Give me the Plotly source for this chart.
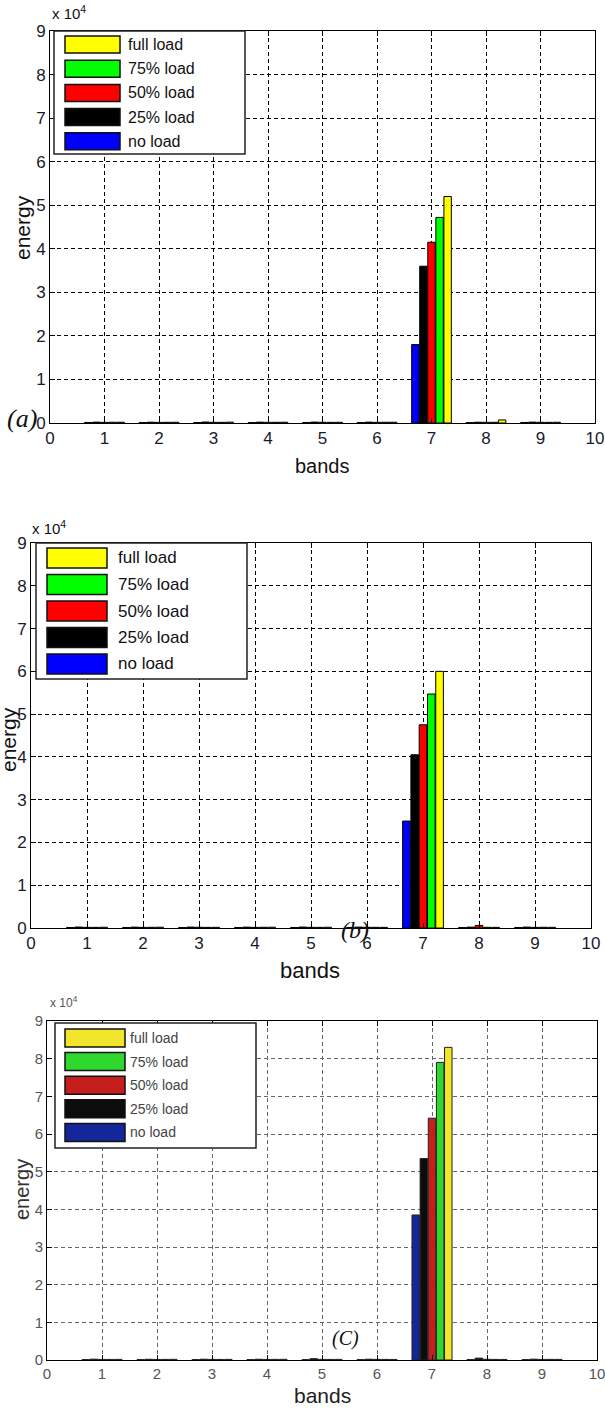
import plotly.graph_objects as go

W, H = 605, 1409

# ---------------- data ----------------
bands = [1, 2, 3, 4, 5, 6, 7, 8, 9]
series_names = ["no load", "25% load", "50% load", "75% load", "full load"]

# panel (a)
a_no_load   = [120, 100, 110, 100, 120, 110, 18000, 100, 120]
a_25_load   = [200, 180, 220, 190, 210, 200, 36000, 180, 200]
a_50_load   = [150, 140, 160, 150, 170, 150, 41500, 150, 160]
a_75_load   = [170, 160, 150, 160, 150, 170, 47200, 160, 150]
a_full_load = [180, 170, 190, 180, 160, 180, 52000, 700, 170]

# panel (b)
b_no_load   = [120, 110, 100, 120, 110, 120, 25000, 100, 110]
b_25_load   = [220, 200, 210, 200, 220, 210, 40500, 200, 210]
b_50_load   = [160, 150, 170, 150, 160, 170, 47500, 600, 150]
b_75_load   = [150, 160, 150, 170, 150, 160, 54700, 160, 170]
b_full_load = [170, 180, 160, 180, 170, 150, 60000, 150, 160]

# panel (c)
c_no_load   = [120, 100, 110, 120, 100, 110, 38500, 120, 100]
c_25_load   = [220, 200, 210, 200, 350, 210, 53500, 500, 220]
c_50_load   = [160, 150, 170, 150, 160, 170, 64200, 200, 150]
c_75_load   = [150, 160, 150, 170, 150, 160, 79000, 160, 170]
c_full_load = [170, 180, 160, 180, 170, 150, 83000, 150, 160]

x_ticks = [0, 1, 2, 3, 4, 5, 6, 7, 8, 9, 10]
y_tick_vals = [0, 10000, 20000, 30000, 40000, 50000, 60000, 70000, 80000, 90000]
y_tick_text = ["0", "1", "2", "3", "4", "5", "6", "7", "8", "9"]

# ---------------- style ----------------
colors_ab = ["#0000ff", "#000000", "#ff0000", "#00ff00", "#ffff00"]
colors_c = ["#13279a", "#0c0c0c", "#c61d1d", "#2fd82f", "#f2e62a"]

NARROW = "Liberation Sans Narrow, Arial Narrow, Liberation Sans, Arial"

def px_x(p):
    return p / W

def px_y(p):
    return 1 - p / H

panels = [
    dict(xa="x", ya="y", data=[a_no_load, a_25_load, a_50_load, a_75_load, a_full_load],
         colors=colors_ab, edge="#000000", box=(50, 595, 31, 423),
         grid="#000000", tickfont=dict(family=NARROW, size=17, color="#1a1a2a"),
         leg=dict(box=(54, 245, 31, 154), rx=(65, 120), y0=36, dy=24.2, rh=17, tx=126, fs=16, tc="#111"),
         mult=(50, 12, 15, "#111"),
         energy=(22, 228, 21, "#111"), bandsl=(322, 466, 20, "#111"),
         label=("(a)", 22, 418, 26)),
    dict(xa="x2", ya="y2", data=[b_no_load, b_25_load, b_50_load, b_75_load, b_full_load],
         colors=colors_ab, edge="#000000", box=(31, 591, 543, 928),
         grid="#000000", tickfont=dict(family=NARROW, size=17, color="#1a1a2a"),
         leg=dict(box=(36, 247, 543, 679), rx=(47, 107), y0=548, dy=26.5, rh=20, tx=116, fs=17, tc="#111"),
         mult=(30, 527, 15, "#111"),
         energy=(8, 740, 21, "#111"), bandsl=(310, 970, 22, "#111"),
         label=("(b)", 355, 930, 24)),
    dict(xa="x3", ya="y3", data=[c_no_load, c_25_load, c_50_load, c_75_load, c_full_load],
         colors=colors_c, edge="#222222", box=(47, 597, 1021, 1360),
         grid="#666666", tickfont=dict(family=NARROW, size=15, color="#555"),
         leg=dict(box=(55, 256, 1023, 1148), rx=(65, 125), y0=1029, dy=23.6, rh=18, tx=128, fs=14, tc="#444"),
         mult=(48, 1002, 12, "#555"),
         energy=(22, 1190, 20, "#333"), bandsl=(322, 1395, 21, "#222"),
         label=("(C)", 345, 1338, 20)),
]

fig = go.Figure()
shapes = []
annotations = []
layout_axes = {}

for i, p in enumerate(panels):
    for k, name in enumerate(series_names):
        fig.add_trace(go.Bar(
            x=bands, y=p["data"][k], name=name,
            xaxis=p["xa"], yaxis=p["ya"],
            marker=dict(color=p["colors"][k], line=dict(color=p["edge"], width=1)),
            showlegend=False,
        ))
    x0, x1, y0, y1 = p["box"]
    xkey = "xaxis" if p["xa"] == "x" else "xaxis" + p["xa"][1:]
    ykey = "yaxis" if p["ya"] == "y" else "yaxis" + p["ya"][1:]
    layout_axes[xkey] = dict(
        domain=[px_x(x0), px_x(x1)], anchor=p["ya"], range=[0, 10],
        tickvals=x_ticks, ticktext=[str(t) for t in x_ticks],
        showgrid=True, gridcolor=p["grid"], griddash="4px,3px", gridwidth=1,
        showline=True, linecolor="#000", linewidth=1, mirror="ticks",
        ticks="inside", ticklen=5, tickcolor="#000", automargin=False,
        ticklabeloverflow="allow",
        tickfont=p["tickfont"], zeroline=False, fixedrange=True,
    )
    layout_axes[ykey] = dict(
        domain=[px_y(y1), px_y(y0)], anchor=p["xa"], range=[0, 90000],
        tickvals=y_tick_vals, ticktext=y_tick_text,
        showgrid=True, gridcolor=p["grid"], griddash="4px,3px", gridwidth=1,
        showline=True, linecolor="#000", linewidth=1, mirror="ticks",
        ticks="inside", ticklen=5, tickcolor="#000", automargin=False,
        ticklabeloverflow="allow",
        tickfont=p["tickfont"], zeroline=False, fixedrange=True,
    )

    # manual legend
    L = p["leg"]
    bx0, bx1, by0, by1 = L["box"]
    shapes.append(dict(type="rect", xref="paper", yref="paper",
                       x0=px_x(bx0), x1=px_x(bx1), y0=px_y(by1), y1=px_y(by0),
                       fillcolor="white", line=dict(color="#222", width=1.5), layer="above"))
    order = list(range(len(series_names)))[::-1]
    for r, k in enumerate(order):
        top = L["y0"] + r * L["dy"]
        shapes.append(dict(type="rect", xref="paper", yref="paper",
                           x0=px_x(L["rx"][0]), x1=px_x(L["rx"][1]),
                           y0=px_y(top + L["rh"]), y1=px_y(top),
                           fillcolor=p["colors"][k], line=dict(color="#111", width=1.5), layer="above"))
        annotations.append(dict(xref="paper", yref="paper", x=px_x(L["tx"]), y=px_y(top + L["rh"] / 2),
                                text=series_names[k], showarrow=False, xanchor="left", yanchor="middle",
                                font=dict(family=NARROW, size=L["fs"], color=L["tc"])))

    mx, my, ms, mc = p["mult"]
    annotations.append(dict(xref="paper", yref="paper", x=px_x(mx), y=px_y(my), text="x 10<sup>4</sup>",
                            showarrow=False, xanchor="left", yanchor="middle",
                            font=dict(family=NARROW, size=ms, color=mc)))
    ex, ey, es, ec = p["energy"]
    annotations.append(dict(xref="paper", yref="paper", x=px_x(ex), y=px_y(ey), text="energy",
                            showarrow=False, textangle=-90, xanchor="center", yanchor="middle",
                            font=dict(family="Liberation Sans, Arial", size=es, color=ec)))
    bxl, byl, bs, bc = p["bandsl"]
    annotations.append(dict(xref="paper", yref="paper", x=px_x(bxl), y=px_y(byl), text="bands",
                            showarrow=False, xanchor="center", yanchor="middle",
                            font=dict(family="Liberation Sans, Arial", size=bs, color=bc)))
    lt, lx, ly, ls = p["label"]
    annotations.append(dict(xref="paper", yref="paper", x=px_x(lx), y=px_y(ly), text="<i>" + lt + "</i>",
                            showarrow=False, xanchor="center", yanchor="middle",
                            font=dict(family="Liberation Serif, Times New Roman, serif", size=ls, color="#111")))

fig.update_layout(
    width=W, height=H,
    margin=dict(l=0, r=0, t=0, b=0, autoexpand=False),
    paper_bgcolor="white", plot_bgcolor="white",
    barmode="group", bargap=0.26, bargroupgap=0.08,
    showlegend=False,
    shapes=shapes, annotations=annotations,
    **layout_axes,
)

fig.write_html("out.html", post_script="document.body.style.margin='0';document.body.style.overflow='hidden';")
